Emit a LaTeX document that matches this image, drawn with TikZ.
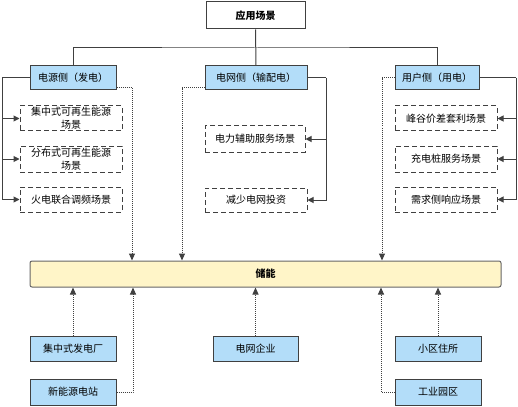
\documentclass[tikz,border=0pt]{standalone}
\usepackage{fontspec}
\setmainfont{Noto Sans CJK SC}
\usetikzlibrary{arrows.meta}

\definecolor{boxblue}{HTML}{B3DDF9}
\definecolor{boxyellow}{HTML}{FFF5C8}
\definecolor{linegray}{HTML}{404040}

\begin{document}
\begin{tikzpicture}[
        x=1pt, y=-1pt,
        every node/.style={font=\fontsize{10}{13}\selectfont, inner sep=0pt, align=center},
        head/.style={rectangle, draw=linegray, line width=1pt, fill=white, minimum width=99pt, minimum height=27pt, font=\fontsize{10}{13}\selectfont\bfseries},
        side/.style={rectangle, draw=linegray, line width=1pt, fill=boxblue, minimum height=24pt},
        scene/.style={rectangle, draw=linegray, line width=1pt, dash pattern=on 5pt off 3pt, minimum width=102pt, minimum height=25pt},
        store/.style={rectangle, rounded corners=2pt, draw=black!60, line width=1pt, fill=boxyellow, minimum width=471pt, minimum height=26pt, font=\fontsize{10}{13}\selectfont\bfseries},
        party/.style={rectangle, draw=linegray, line width=1pt, fill=boxblue, minimum width=86pt, minimum height=25pt},
        tree/.style={draw=linegray, line width=1pt},
        feed/.style={tree, -{Triangle[length=6pt, width=6pt]}},
        flow/.style={draw=linegray, line width=1pt, densely dotted, -{Triangle[length=7pt, width=6pt]}}
    ]
        \useasboundingbox (0,0) rectangle (518,406);

        % top level
        \node[head] (app) at (255.5,15.5) {应用场景};
        \node[side, minimum width=86pt] (src) at (73,78) {电源侧（发电）};
        \node[side, minimum width=102pt] (grid) at (256,78) {电网侧（输配电）};
        \node[side, minimum width=84pt] (user) at (437,78) {用户侧（用电）};
        \coordinate (bus) at (256,48);
        \draw[tree] (app.south) -- (grid.north);
        \draw[tree] (src.north) |- (bus) -| (user.north);

        % source side scenes
        \node[scene] (s1) at (71,118.5) {集中式可再生能源\\场景};
        \node[scene, minimum height=26pt] (s2) at (71,159) {分布式可再生能源\\场景};
        \node[scene] (s3) at (71,199.5) {火电联合调频场景};
        \coordinate (sbus) at (2,78);
        \draw[tree] (src.west) -- (sbus);
        \foreach \n in {s1,s2,s3} \draw[feed] (sbus) |- (\n.west);

        % grid side scenes
        \node[scene, minimum width=100pt, minimum height=26pt] (g1) at (255,139) {电力辅助服务场景};
        \node[scene, minimum height=24pt] (g2) at (256,200) {减少电网投资};
        \coordinate (gbus) at (326,78);
        \draw[tree] (grid.east) -- (gbus);
        \foreach \n in {g1,g2} \draw[feed] (gbus) |- (\n.east);

        % user side scenes
        \node[scene] (u1) at (446,118.5) {峰谷价差套利场景};
        \node[scene, minimum height=26pt] (u2) at (446,159) {充电桩服务场景};
        \node[scene] (u3) at (446,199.5) {需求侧响应场景};
        \coordinate (ubus) at (516,78);
        \draw[tree] (user.east) -- (ubus);
        \foreach \n in {u1,u2,u3} \draw[feed] (ubus) |- (\n.east);

        % storage
        \node[store] (ess) at (265.5,274) {储能};
        \coordinate (d1) at (132,0);
        \coordinate (d2) at (182,0);
        \coordinate (d3) at (382,0);
        \draw[flow] ([yshift=-10pt]src.east) -| (d1 |- ess.north);
        \draw[flow] ([yshift=-10pt]grid.west) -| (d2 |- ess.north);
        \draw[flow] (user.west) -| (d3 |- ess.north);

        % parties below
        \node[party] (plant) at (73,348.5) {集中式发电厂};
        \node[party, minimum height=26pt] (newe) at (73,392) {新能源电站};
        \node[party, minimum width=85pt] (gco) at (255.5,348.5) {电网企业};
        \node[party] (home) at (438,348.5) {小区住所};
        \node[party, minimum height=26pt] (park) at (438,392) {工业园区};
        \coordinate (e1) at (133,0);
        \coordinate (e2) at (381,0);
        \draw[flow] (plant.north) -- (plant.north |- ess.south);
        \draw[flow] (newe.east) -| (e1 |- ess.south);
        \draw[flow] (gco.north) -- (gco.north |- ess.south);
        \draw[flow] (park.west) -| (e2 |- ess.south);
        \draw[flow] (home.north) -- (home.north |- ess.south);

    \end{tikzpicture}
\end{document}
